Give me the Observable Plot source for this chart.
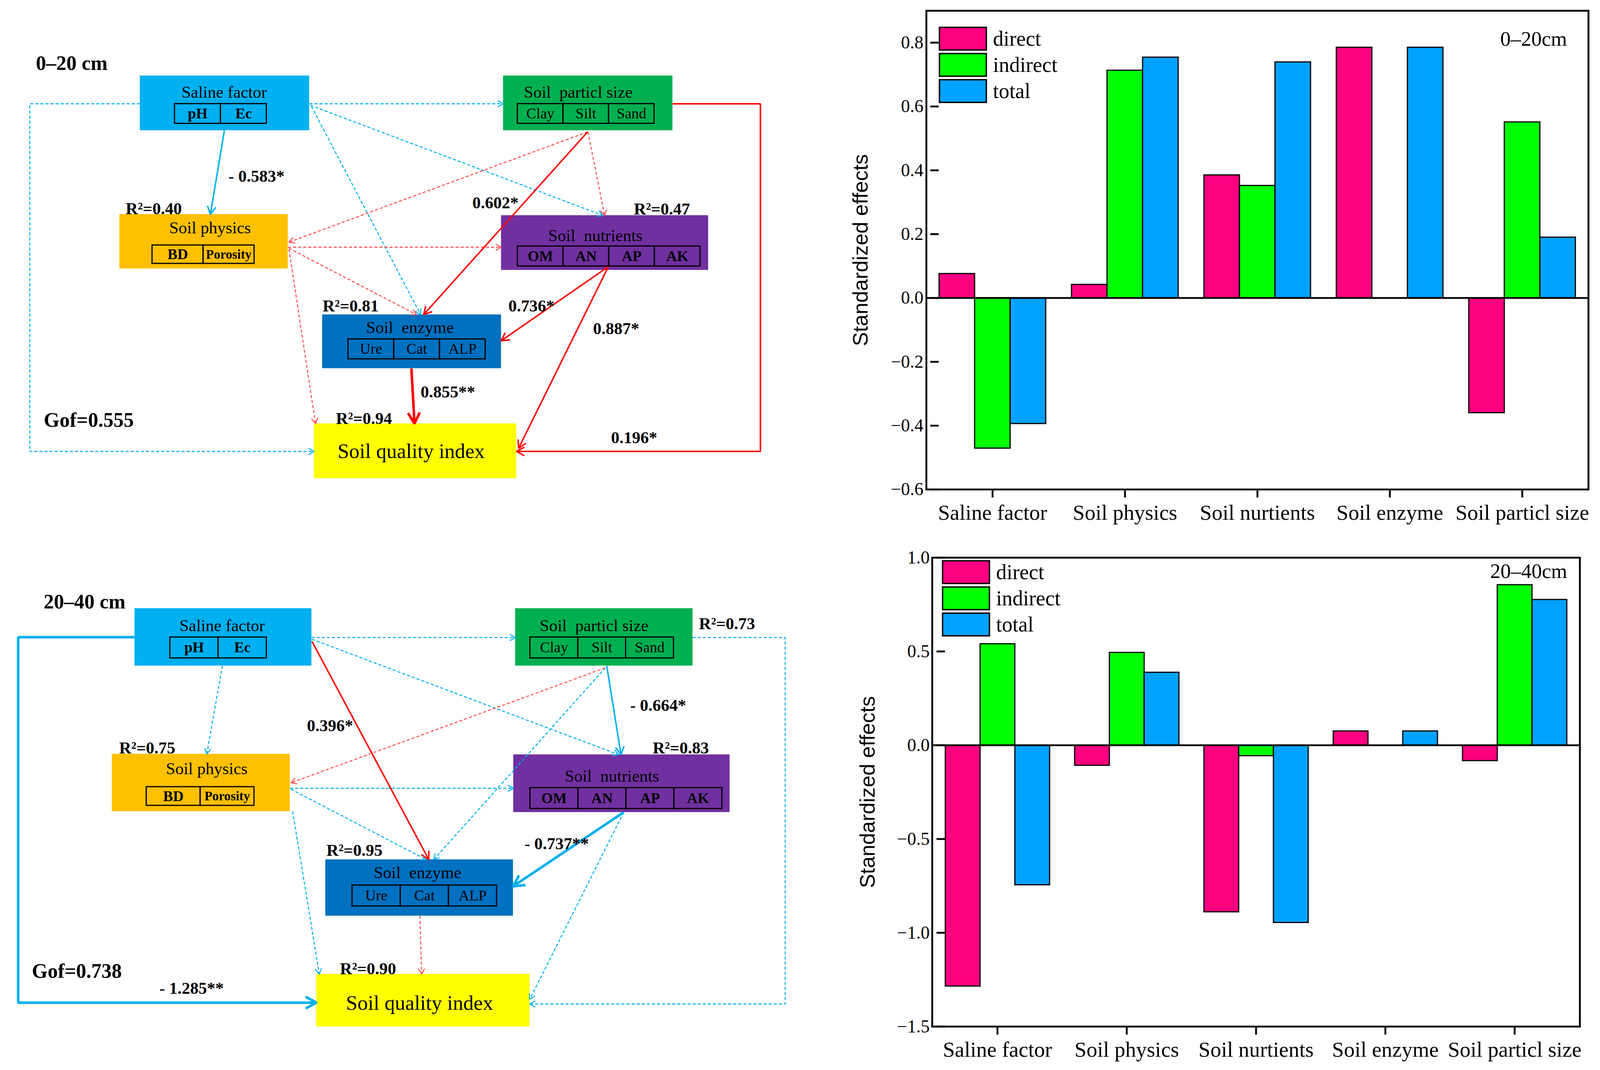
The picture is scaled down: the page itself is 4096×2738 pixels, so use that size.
<!DOCTYPE html>
<html>
<head>
<meta charset="utf-8">
<script src="https://cdn.jsdelivr.net/npm/d3@7"></script>
<script src="https://cdn.jsdelivr.net/npm/@observablehq/plot@0.6"></script>
<style>
html, body { margin: 0; padding: 0; background: #fff; }
#root { position: relative; width: 4096px; height: 2738px; overflow: hidden; background: #fff; }
.abs { position: absolute; }
.abs > svg { display: block; max-width: none; overflow: visible; }
svg text { white-space: pre; }
.barplot text { font-family: "Liberation Serif", "Times New Roman", serif; }
.legwrap svg { margin-right: 17px !important; overflow: visible !important; }
.legwrap svg rect { stroke: #000; stroke-width: 3.5px; }
.legwrap > div > div { padding-bottom: 9px !important; line-height: 58px; color: #000; }
</style>
</head>
<body>
<div id="root"></div>
<script>
// ================= BAR CHART DATA =================
const categories = ["Saline factor", "Soil physics", "Soil nurtients", "Soil enzyme", "Soil particl size"];
const effectTypes = ["direct", "indirect", "total"];
const direct020   = [0.076, 0.042, 0.385, 0.785, -0.360];
const indirect020 = [-0.471, 0.713, 0.352, 0.000, 0.551];
const total020    = [-0.394, 0.754, 0.739, 0.785, 0.190];
const direct2040   = [-1.285, -0.108, -0.889, 0.075, -0.083];
const indirect2040 = [0.540, 0.494, -0.057, 0.000, 0.855];
const total2040    = [-0.745, 0.388, -0.946, 0.075, 0.776];
const yTicks020 = [-0.6, -0.4, -0.2, 0.0, 0.2, 0.4, 0.6, 0.8];
const yTicks2040 = [-1.5, -1.0, -0.5, 0.0, 0.5, 1.0];
const depthLabels = ["0–20cm", "20–40cm"];
const yAxisLabel = "Standardized effects";

// ================= PATH DIAGRAM DATA =================
const nodeNames  = ["Saline factor", "Soil particl size", "Soil physics", "Soil nutrients", "Soil enzyme", "Soil quality index"];
const nodeTitles = ["Saline factor", "Soil  particl size", "Soil physics", "Soil  nutrients", "Soil  enzyme", "Soil quality index"];
const nodeItems  = [["pH", "Ec"], ["Clay", "Silt", "Sand"], ["BD", "Porosity"], ["OM", "AN", "AP", "AK"], ["Ure", "Cat", "ALP"], []];
const boldItems  = ["pH", "Ec", "BD", "Porosity", "OM", "AN", "AP", "AK"];
const diagramTitles = ["0–20 cm", "20–40 cm"];
const gofValues = [0.555, 0.738];
const r2_020  = {"Soil physics": 0.40, "Soil nutrients": 0.47, "Soil enzyme": 0.81, "Soil quality index": 0.94};
const r2_2040 = {"Soil particl size": 0.73, "Soil physics": 0.75, "Soil nutrients": 0.83, "Soil enzyme": 0.95, "Soil quality index": 0.90};

// sign: +1 positive (red), -1 negative (blue); sig "" = not significant
const paths020 = [
  {from: "Saline factor", to: "Soil particl size", sign: -1, coef: null, sig: ""},
  {from: "Saline factor", to: "Soil quality index", sign: -1, coef: null, sig: ""},
  {from: "Saline factor", to: "Soil physics", sign: -1, coef: -0.583, sig: "*"},
  {from: "Saline factor", to: "Soil nutrients", sign: -1, coef: null, sig: ""},
  {from: "Saline factor", to: "Soil enzyme", sign: -1, coef: null, sig: ""},
  {from: "Soil particl size", to: "Soil physics", sign: 1, coef: null, sig: ""},
  {from: "Soil particl size", to: "Soil enzyme", sign: 1, coef: 0.602, sig: "*"},
  {from: "Soil particl size", to: "Soil nutrients", sign: 1, coef: null, sig: ""},
  {from: "Soil particl size", to: "Soil quality index", sign: 1, coef: 0.196, sig: "*"},
  {from: "Soil physics", to: "Soil nutrients", sign: 1, coef: null, sig: ""},
  {from: "Soil physics", to: "Soil enzyme", sign: 1, coef: null, sig: ""},
  {from: "Soil physics", to: "Soil quality index", sign: 1, coef: null, sig: ""},
  {from: "Soil nutrients", to: "Soil enzyme", sign: 1, coef: 0.736, sig: "*"},
  {from: "Soil nutrients", to: "Soil quality index", sign: 1, coef: 0.887, sig: "*"},
  {from: "Soil enzyme", to: "Soil quality index", sign: 1, coef: 0.855, sig: "**"}
];
const paths2040 = [
  {from: "Saline factor", to: "Soil particl size", sign: -1, coef: null, sig: ""},
  {from: "Saline factor", to: "Soil quality index", sign: -1, coef: -1.285, sig: "**"},
  {from: "Saline factor", to: "Soil physics", sign: -1, coef: null, sig: ""},
  {from: "Saline factor", to: "Soil nutrients", sign: -1, coef: null, sig: ""},
  {from: "Saline factor", to: "Soil enzyme", sign: 1, coef: 0.396, sig: "*"},
  {from: "Soil particl size", to: "Soil physics", sign: 1, coef: null, sig: ""},
  {from: "Soil particl size", to: "Soil nutrients", sign: -1, coef: -0.664, sig: "*"},
  {from: "Soil particl size", to: "Soil enzyme", sign: -1, coef: null, sig: ""},
  {from: "Soil particl size", to: "Soil quality index", sign: -1, coef: null, sig: ""},
  {from: "Soil physics", to: "Soil nutrients", sign: -1, coef: null, sig: ""},
  {from: "Soil physics", to: "Soil enzyme", sign: -1, coef: null, sig: ""},
  {from: "Soil physics", to: "Soil quality index", sign: -1, coef: null, sig: ""},
  {from: "Soil nutrients", to: "Soil enzyme", sign: -1, coef: -0.737, sig: "**"},
  {from: "Soil nutrients", to: "Soil quality index", sign: -1, coef: null, sig: ""},
  {from: "Soil enzyme", to: "Soil quality index", sign: 1, coef: null, sig: ""}
];

// ================= DIAGRAM LAYOUT (reference units) =================
const boxes020  = [[137,303,74,127.6],[493,659,74,127.6],[117,282,209.7,263],[491,694,210.8,264.4],[315.7,491,308,360.7],[307.6,506,414.8,468.4]];
const titles020 = [[219.5,95.5],[566.5,95.5],[205.7,228.2],[583.3,236],[401.6,326],[402.8,448.3]];
const tables020 = [[171,261,101.5,120.8],[507,641,101.5,120.8],[149,249,240,258],[507,686,241,260.5],[341,475.5,332,351.5],null];
const boxes2040  = [[131.8,305.2,595.8,652],[504.8,678.6,595.8,652],[109.6,284,738.4,794.6],[503,715,739,795.5],[318.8,502.7,841.8,897],[310,519,954,1005.5]];
const titles2040 = [[217.5,618],[582,618],[202.4,758],[599.5,765.5],[409,860],[411,989]];
const tables2040 = [[166.4,261,624,644.5],[519.3,660,624,644.5],[143.3,248.9,770.6,788.9],[519.3,707.4,771.5,792],[345,486.6,867,887.5],null];
const routes020 = [
  [[303,101.5],[493,101.5]],
  [[137,101.5],[29,101.5],[29,442],[307.6,442]],
  [[219.7,127.6],[206,209.7]],
  [[304,103],[590.6,210.8]],
  [[305,104],[412,308]],
  [[575.7,129],[283,237]],
  [[575.7,129],[415,308]],
  [[576,129],[592.3,210.8]],
  [[659,101.5],[745,101.5],[745,442],[506,442]],
  [[282,242],[491,242]],
  [[283,243],[408,308]],
  [[283,244],[309,414.8]],
  [[596,261],[491,333.6]],
  [[596,261],[508,439]],
  [[403,360.7],[406,414.8]]
];
const routes2040 = [
  [[305.2,624.3],[504.8,624.3]],
  [[131.8,624],[17.6,624],[17.6,982],[310,982]],
  [[217.7,652],[202.5,738.4]],
  [[305.5,626],[606,739]],
  [[305.5,628],[420,841.8]],
  [[593,654],[285,766.6]],
  [[594.4,652],[608.4,739]],
  [[593,654],[425,841.8]],
  [[678.6,624.3],[769.3,624.3],[769.3,983.3],[519,983.3]],
  [[284,772],[503,772]],
  [[285,773],[417.4,841.8]],
  [[286.6,794.6],[312.7,954]],
  [[611,795.5],[502.7,868]],
  [[611,795.5],[519,978.7]],
  [[411.3,897],[413,954]]
];
const coefPos020  = [null,null,[223.7,178],null,null,null,[462.7,204],null,[598.6,434],null,null,null,[498,305],[581,327],[412,389]];
const coefPos2040 = [null,[156,973.5],null,null,[300.6,716],null,[617.4,696],null,null,null,null,null,[513.8,831.7],null,null];
const r2Pos020  = {"Soil physics": [123,209.5], "Soil nutrients": [621,210], "Soil enzyme": [316,305], "Soil quality index": [329,415]};
const r2Pos2040 = {"Soil particl size": [684.8,616], "Soil physics": [116.6,738], "Soil nutrients": [639.5,738], "Soil enzyme": [319.7,838], "Soil quality index": [333,954]};
const titlePos = [[35,68.5],[42.7,596]];
const gofPos = [[42.7,418],[31,957.5]];

// ================= STYLES =================
const nodeFill = ["#00B0F0", "#00B050", "#FFC000", "#7030A0", "#0070C0", "#FFFF00"];
const effectColors = ["#FF0080", "#00FF00", "#00A2FF"];
const SERIF = "Liberation Serif, Times New Roman, serif";
const SANS = "Liberation Sans, Arial, sans-serif";
const K = 4096 / 1568;
const DW = 800, DH = 1048;

const root = document.getElementById("root");
function place(node, left, top, w, h, cls = "abs") {
  const d = document.createElement("div");
  d.className = cls;
  d.style.left = left + "px"; d.style.top = top + "px";
  if (w) d.style.width = w + "px";
  if (h) d.style.height = h + "px";
  d.appendChild(node);
  root.appendChild(d);
  return d;
}

// open V arrowhead marker (solid even on dashed lines)
const SVGNS = "http://www.w3.org/2000/svg";
function openHead(len, half, sw, color) {
  return () => {
    const m = document.createElementNS(SVGNS, "marker");
    const pad = sw * 2;
    m.setAttribute("viewBox", `${-len - pad} ${-half - pad} ${len + 2 * pad} ${2 * half + 2 * pad}`);
    m.setAttribute("markerUnits", "userSpaceOnUse");
    m.setAttribute("markerWidth", len + 2 * pad);
    m.setAttribute("markerHeight", 2 * half + 2 * pad);
    m.setAttribute("refX", 0);
    m.setAttribute("refY", 0);
    m.setAttribute("orient", "auto");
    m.setAttribute("overflow", "visible");
    const p = document.createElementNS(SVGNS, "path");
    p.setAttribute("d", `M${-len},${-half}L0,0L${-len},${half}`);
    p.setAttribute("fill", "none");
    p.setAttribute("stroke", color);
    p.setAttribute("stroke-width", sw);
    p.setAttribute("stroke-dasharray", "none");
    p.setAttribute("stroke-linejoin", "miter");
    m.appendChild(p);
    return m;
  };
}
let customMarkers = true;
try { Plot.line([], {x: "x", y: "y", markerEnd: openHead(10, 5, 2, "red")}); } catch (e) { customMarkers = false; }

function edgeStyle(e) {
  const sig = e.sig !== "";
  return {
    stroke: e.sign > 0 ? (sig ? "#FF0000" : "#FF5050") : "#00B0F0",
    width: e.sig === "**" ? 6.5 : sig ? 3.8 : 2.6,
    dash: sig ? "none" : "8,5",
    head: e.sig === "**" ? [28, 15] : sig ? [20, 11] : [14, 8]
  };
}

const panels = [
  {title: diagramTitles[0], gof: gofValues[0], r2: r2_020, paths: paths020, boxes: boxes020, titles: titles020, tables: tables020, routes: routes020, coefPos: coefPos020, r2Pos: r2Pos020, tPos: titlePos[0], gPos: gofPos[0]},
  {title: diagramTitles[1], gof: gofValues[1], r2: r2_2040, paths: paths2040, boxes: boxes2040, titles: titles2040, tables: tables2040, routes: routes2040, coefPos: coefPos2040, r2Pos: r2Pos2040, tPos: titlePos[1], gPos: gofPos[1]}
];

function diagramMarks(P, pi) {
  const marks = [];
  const boxes = nodeNames.map((n, i) => ({name: n, fill: nodeFill[i], b: P.boxes[i]}));
  marks.push(Plot.rect(boxes, {x1: d => d.b[0], x2: d => d.b[1], y1: d => d.b[2], y2: d => d.b[3], fill: d => d.fill}));

  const recs = P.paths.map((e, k) => ({...e, route: P.routes[k], lpos: P.coefPos[k], style: edgeStyle(e), id: `${pi}-${k}`}));
  for (const [, group] of d3.groups(recs, d => JSON.stringify(d.style))) {
    const s = group[0].style;
    const pts = group.flatMap(r => r.route.map(([x, y]) => ({id: r.id, x, y})));
    marks.push(Plot.line(pts, {
      x: "x", y: "y", z: "id", stroke: s.stroke, strokeWidth: s.width,
      strokeDasharray: s.dash, strokeLinejoin: "miter", strokeLinecap: "butt",
      markerEnd: customMarkers ? openHead(s.head[0], s.head[1], s.width, s.stroke) : "arrow"
    }));
  }

  const cells = [];
  nodeNames.forEach((n, i) => {
    const t = P.tables[i], items = nodeItems[i];
    if (!t || !items.length) return;
    const w = (t[1] - t[0]) / items.length;
    items.forEach((lab, j) => cells.push({label: lab, bold: boldItems.includes(lab), x1: t[0] + j * w, x2: t[0] + (j + 1) * w, y1: t[2], y2: t[3]}));
  });
  marks.push(Plot.rect(cells, {x1: "x1", x2: "x2", y1: "y1", y2: "y2", fill: "none", stroke: "black", strokeWidth: 3}));
  for (const bold of [true, false]) {
    marks.push(Plot.text(cells.filter(c => c.bold === bold), {
      x: d => (d.x1 + d.x2) / 2, y: d => (d.y1 + d.y2) / 2, text: "label",
      fontWeight: bold ? "bold" : "normal", fontSize: d => d.label.length > 4 ? 33 : 38,
      textAnchor: "middle", lineAnchor: "middle", fill: "black", fontFamily: SERIF
    }));
  }

  const titles = nodeNames.map((n, i) => ({text: nodeTitles[i], x: P.titles[i][0], y: P.titles[i][1], size: n === "Soil quality index" ? 53 : 43}));
  marks.push(Plot.text(titles, {x: "x", y: "y", text: "text", fontSize: "size", textAnchor: "middle", lineAnchor: "bottom", fill: "black", fontFamily: SERIF}));

  const r2 = Object.keys(P.r2).map(n => ({text: `R²=${P.r2[n].toFixed(2)}`, x: P.r2Pos[n][0], y: P.r2Pos[n][1]}));
  const coefs = recs.filter(r => r.coef != null).map(r => ({text: (r.coef < 0 ? "- " : "") + Math.abs(r.coef).toFixed(3) + r.sig, x: r.lpos[0], y: r.lpos[1]}));
  marks.push(Plot.text([...r2, ...coefs], {x: "x", y: "y", text: "text", fontSize: 43, fontWeight: "bold", textAnchor: "start", lineAnchor: "bottom", fill: "black", fontFamily: SERIF}));

  const big = [{text: P.title, x: P.tPos[0], y: P.tPos[1]}, {text: `Gof=${P.gof.toFixed(3)}`, x: P.gPos[0], y: P.gPos[1]}];
  marks.push(Plot.text(big, {x: "x", y: "y", text: "text", fontSize: 52, fontWeight: "bold", textAnchor: "start", lineAnchor: "bottom", fill: "black", fontFamily: SERIF}));
  return marks;
}

const diagram = Plot.plot({
  width: DW * K, height: DH * K, margin: 0,
  x: {domain: [0, DW], axis: null},
  y: {domain: [0, DH], reverse: true, axis: null},
  color: {type: "identity"},
  style: {fontFamily: SERIF, background: "transparent", overflow: "visible"},
  marks: panels.flatMap((P, i) => diagramMarks(P, i))
});
place(diagram, 0, 0, DW * K, DH * K);

// ================= BAR CHARTS =================
function effectRows(direct, indirect, total) {
  const series = {direct, indirect, total};
  return categories.flatMap((c, i) => effectTypes.map(t => ({category: c, type: t, value: series[t][i]})));
}
const fmt = d3.format(".1f");
const hasAxisMarks = typeof Plot.axisY === "function" && typeof Plot.axisFx === "function";

function barChart({rows, yDomain, yTicks, left, top, width, height, margins, depthLabel, depthDx, depthDy, labelDx, legendPos}) {
  const [mt, mr, mb, ml] = margins;
  const common = {width, height, marginTop: mt, marginRight: mr, marginBottom: mb, marginLeft: ml};
  const marks = [Plot.barY(rows, {fx: "category", x: "type", y: "value", fill: "type", stroke: "black", strokeWidth: 3})];
  let yOpt = {domain: yDomain, axis: null}, fxOpt = {domain: categories, paddingInner: 0.19, paddingOuter: 0.095, axis: null, label: null};
  if (hasAxisMarks) {
    marks.push(Plot.axisY({ticks: yTicks, tickFormat: fmt, tickSize: 21.5, tickPadding: 18, strokeWidth: 4.7, fontSize: 46, fontFamily: SERIF, label: null, fill: "black"}));
    marks.push(Plot.axisFx({anchor: "bottom", tickSize: 21, tickPadding: 17, strokeWidth: 4.7, fontSize: 55, fontFamily: SERIF, label: null, fill: "black"}));
  } else {
    yOpt = {domain: yDomain, ticks: yTicks, tickFormat: fmt, tickSize: 21.5, tickPadding: 18, label: null};
    fxOpt = {...fxOpt, axis: "bottom", tickSize: 21, tickPadding: 17};
  }
  const main = Plot.plot({
    ...common,
    className: "barplot",
    fx: fxOpt,
    x: {domain: effectTypes, padding: 0, axis: null},
    y: yOpt,
    color: {domain: effectTypes, range: effectColors},
    style: {fontFamily: SERIF, fontSize: "46px", background: "transparent", overflow: "visible", color: "black"},
    marks
  });
  const overlay = Plot.plot({
    ...common,
    y: {domain: yDomain, axis: null},
    style: {fontFamily: SERIF, background: "transparent", overflow: "visible"},
    marks: [
      Plot.ruleY([0], {stroke: "black", strokeWidth: 4.5}),
      Plot.frame({stroke: "black", strokeWidth: 4.7}),
      Plot.text([depthLabel], {text: d => d, frameAnchor: "top-right", textAnchor: "end", lineAnchor: "bottom", dx: depthDx, dy: depthDy, fontSize: 53, fontFamily: SERIF, fill: "black"}),
      Plot.text([yAxisLabel], {text: d => d, frameAnchor: "left", textAnchor: "middle", lineAnchor: "middle", rotate: -90, dx: labelDx, fontSize: 54, fontFamily: SANS, fill: "black"})
    ]
  });
  const wrap = place(main, left, top, width, height);
  overlay.style.position = "absolute";
  overlay.style.left = "0px";
  overlay.style.top = "0px";
  wrap.appendChild(overlay);

  const leg = Plot.legend({
    color: {domain: effectTypes, range: effectColors},
    legend: "swatches", columns: 1, swatchWidth: 120, swatchHeight: 58,
    style: {fontSize: "54px", fontFamily: SERIF, color: "black", marginBottom: "0px"}
  });
  place(leg, legendPos[0], legendPos[1], null, null, "abs legwrap");
}

barChart({
  rows: effectRows(direct020, indirect020, total020),
  yDomain: [-0.6, 0.9], yTicks: yTicks020,
  left: 2100, top: 0, width: 1996, height: 1360,
  margins: [27, 30, 108, 271],
  depthLabel: depthLabels[0], depthDx: -55, depthDy: 89, labelDx: -168,
  legendPos: [2405, 70]
});
barChart({
  rows: effectRows(direct2040, indirect2040, total2040),
  yDomain: [-1.5, 1.0], yTicks: yTicks2040,
  left: 2100, top: 1330, width: 1996, height: 1408,
  margins: [96.5, 52, 111.6, 286],
  depthLabel: depthLabels[1], depthDx: -32.5, depthDy: 52, labelDx: -164.5,
  legendPos: [2413, 1435]
});
</script>
</body>
</html>
